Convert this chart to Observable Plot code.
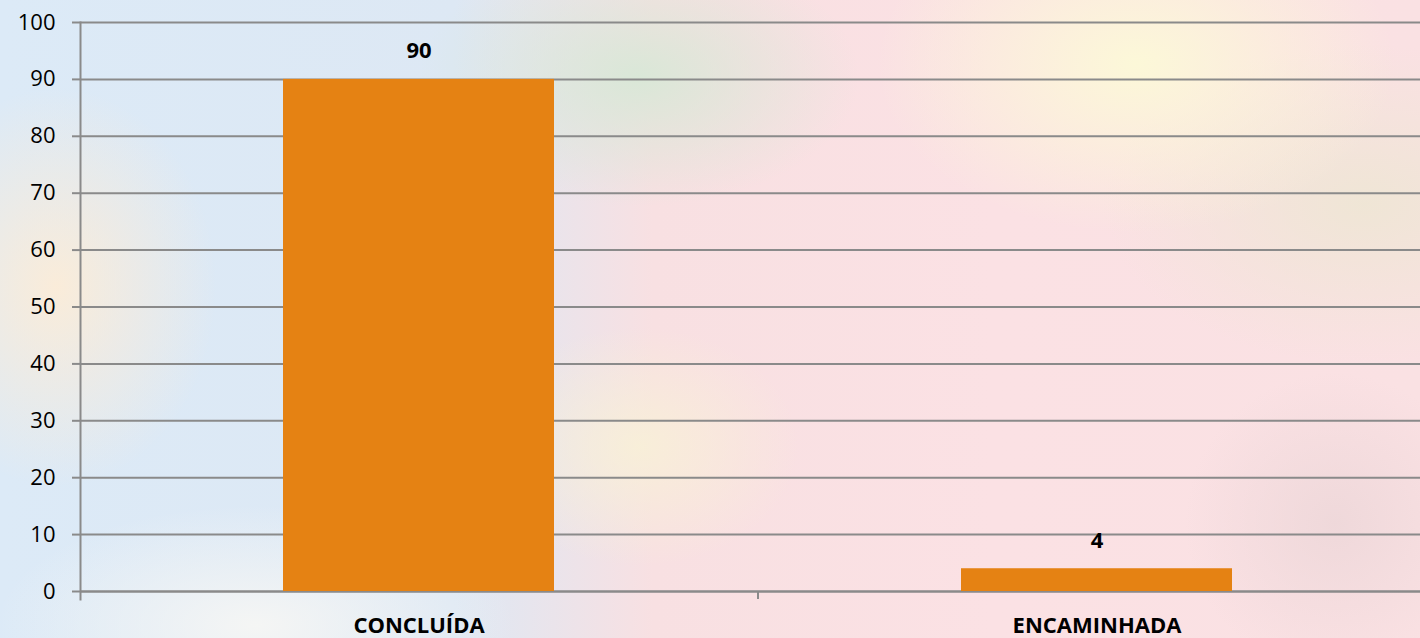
<!DOCTYPE html>
<html>
<head>
<meta charset="utf-8">
<script src="https://cdn.jsdelivr.net/npm/d3@7"></script>
<script src="https://cdn.jsdelivr.net/npm/@observablehq/plot@0.6"></script>
<style>
  html, body { margin: 0; padding: 0; }
  body { width: 1420px; height: 638px; overflow: hidden; }
  #bg {
    position: absolute; left: 0; top: 0; width: 1420px; height: 638px;
    background:
      radial-gradient(ellipse 160px 200px at 4% 45%, rgba(253,236,214,0.9), rgba(253,236,214,0) 100%),
      radial-gradient(ellipse 260px 120px at 18% 98%, rgba(246,246,244,0.95), rgba(246,246,244,0) 100%),
      radial-gradient(ellipse 220px 130px at 45% 12%, rgba(214,232,214,0.9), rgba(214,232,214,0) 100%),
      radial-gradient(ellipse 260px 170px at 80% 10%, rgba(252,248,216,1), rgba(252,248,216,0) 100%),
      radial-gradient(ellipse 260px 160px at 96% 32%, rgba(238,230,212,0.9), rgba(238,230,212,0) 100%),
      radial-gradient(ellipse 160px 120px at 45% 70%, rgba(248,242,214,0.8), rgba(248,242,214,0) 100%),
      radial-gradient(ellipse 150px 150px at 94% 82%, rgba(236,214,216,0.8), rgba(236,214,216,0) 100%),
      linear-gradient(to right, #dceaf7 0%, #dde8f4 32%, #f8e0e2 46%, #fbe1e4 70%, #fae1e3 100%);
  }
  #chart { position: absolute; left: 0; top: 0; }
</style>
</head>
<body>
<div id="bg"></div>
<div id="chart"></div>
<script>
const categories = ["CONCLUÍDA", "ENCAMINHADA"];
const values = [90, 4];
const yTicks = [0, 10, 20, 30, 40, 50, 60, 70, 80, 90, 100];

const data = categories.map((c, i) => ({category: c, value: values[i]}));
const FONT = "'Open Sans', 'DejaVu Sans', sans-serif";

const chart = Plot.plot({
  width: 1420,
  height: 638,
  marginLeft: 80,
  marginRight: 0,
  marginTop: 22,
  marginBottom: 47,
  style: {background: "transparent", fontFamily: FONT, color: "#000"},
  x: {domain: categories, range: [80, 1436], paddingInner: 0.6, paddingOuter: 0.3},
  y: {domain: [0, 100]},
  marks: [
    Plot.gridY(yTicks, {stroke: "#8a8a8a", strokeOpacity: 1, strokeWidth: 2}),
    Plot.axisY(yTicks, {tickSize: 8, tickPadding: 17, stroke: "#8a8a8a", strokeWidth: 2, fontSize: 22, fill: "#000", label: null}),
    Plot.frame({anchor: "left", stroke: "#8a8a8a", strokeWidth: 2, insetBottom: -8}),
    Plot.ruleY([0], {stroke: "#8a8a8a", strokeWidth: 2}),
    Plot.ruleX(categories.slice(1), {x: d => d, y1: 0, y2: 0, dx: -339, insetBottom: -8, stroke: "#8a8a8a", strokeWidth: 2}),
    Plot.barY(data, {x: "category", y: "value", fill: "#e58213"}),
    Plot.text(data, {x: "category", y: "value", text: d => String(d.value), dy: -28, fontWeight: "bold", fontSize: 22, fill: "#000"}),
    Plot.axisX({tickSize: 0, tickPadding: 26, fontSize: 22, fontWeight: "bold", fill: "#000", label: null})
  ]
});
document.getElementById("chart").appendChild(chart);
</script>
</body>
</html>
